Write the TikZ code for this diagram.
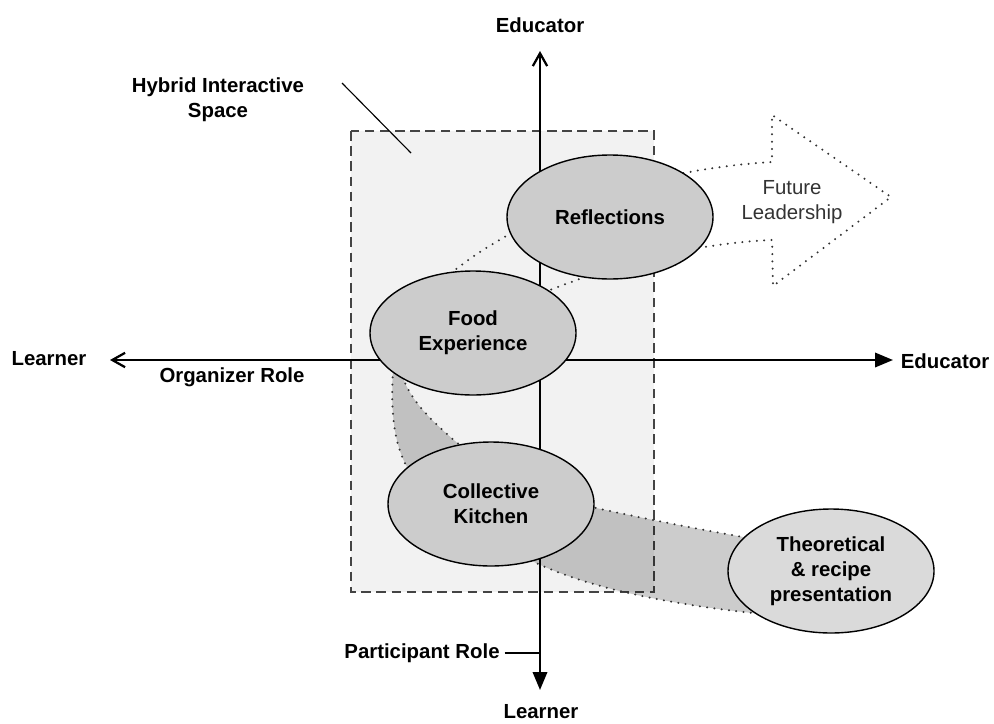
\documentclass[tikz,border=0pt]{standalone}
\usepackage{fontspec}
\setmainfont{Liberation Sans}
\usetikzlibrary{shapes.geometric,arrows.meta,positioning}

\definecolor{roombg}{HTML}{F2F2F2}
\definecolor{stagefill}{HTML}{CCCCCC}
\definecolor{talkfill}{HTML}{DADADA}
\definecolor{dotgray}{HTML}{333333}
\definecolor{edgegray}{HTML}{444444}

\begin{document}
\begin{tikzpicture}[x=0.25mm, y=-0.25mm,
        every node/.style={font=\fontsize{14.5}{17.7}\selectfont\bfseries, align=center},
        stage/.style={draw, ellipse, line width=1pt, fill=stagefill, minimum width=51.5mm, minimum height=31mm, inner sep=0pt},
        axis/.style={line width=1.6pt},
        lead/.style={line width=0.8pt},
        dots/.style={draw=dotgray, line width=1.6pt, line cap=round, dash pattern=on 0pt off 5.2pt},
        band/.style={fill=black, fill opacity=0.2},
        barb/.style={-{Straight Barb[length=3.2mm,width=3.6mm]}},
        tri/.style={-{Triangle[length=4.5mm,width=3.6mm]}}
    ]
        \useasboundingbox (0,0) rectangle (994,723);

        % hybrid interactive space
        \draw [edgegray, fill=roombg, line width=1pt, dash pattern=on 2.4mm off 1.4mm] (351,131) rectangle (654,592);

        % shaded transitions between the stages
        \path [band, dots] (393,370) .. controls (390,420) and (396,450) .. (410,472) -- (462,447)
            .. controls (430,420) and (410,400) .. (402,375) -- cycle;
        \path [band, dots] (560,500) .. controls (640,518) and (700,530) .. (790,545) -- (880,622)
            .. controls (700,615) and (590,590) .. (530,560) -- cycle;

        % outline arrow towards future leadership
        \draw [dots] (445,278) .. controls (520,215) and (640,170) .. (772,162) -- (772,115) -- (891,197)
            -- (773,286) -- (772,240) .. controls (700,243) and (620,262) .. (545,292);

        % axes
        \coordinate (o) at (540,360);
        \coordinate (ytop) at (540,51);
        \coordinate (ybot) at (540,690);
        \coordinate (xleft) at (110,360);
        \coordinate (xright) at (893,360);
        \node (up) at (540,25) {Educator};
        \node [inner sep=1pt] (down) at (541,712) {Learner};
        \node (west) at (49,359) {Learner};
        \node (east) at (945,361) {Educator};

        \draw [axis, barb] (o) -- (ytop);
        \draw [axis, tri] (o) -- (ybot);
        \draw [axis, barb] (o) -- (xleft);
        \draw [axis, tri] (o) -- (xright);

        \node (org) at (232,377) {Organizer Role};
        \node (part) at (422,653) {Participant Role};
        \draw [lead] (part.east) -- (o |- part);
        \node (hybrid) at (218,100) {Hybrid Interactive\\Space};
        \draw [lead] (342,83) -- (411,153);

        % stages
        \node [stage] (reflect) at (610,217) {Reflections};
        \node [stage] (food) at (473,333) {Food\\Experience};
        \node [stage] (kitchen) at (491,504) {Collective\\Kitchen};
        \node [stage, fill=talkfill] (theory) at (831,571) {Theoretical\\\& recipe\\presentation};

        \node [font=\fontsize{14.5}{17.7}\selectfont, text=dotgray] (future) at (792,202) {Future\\Leadership};
\end{tikzpicture}
\end{document}
